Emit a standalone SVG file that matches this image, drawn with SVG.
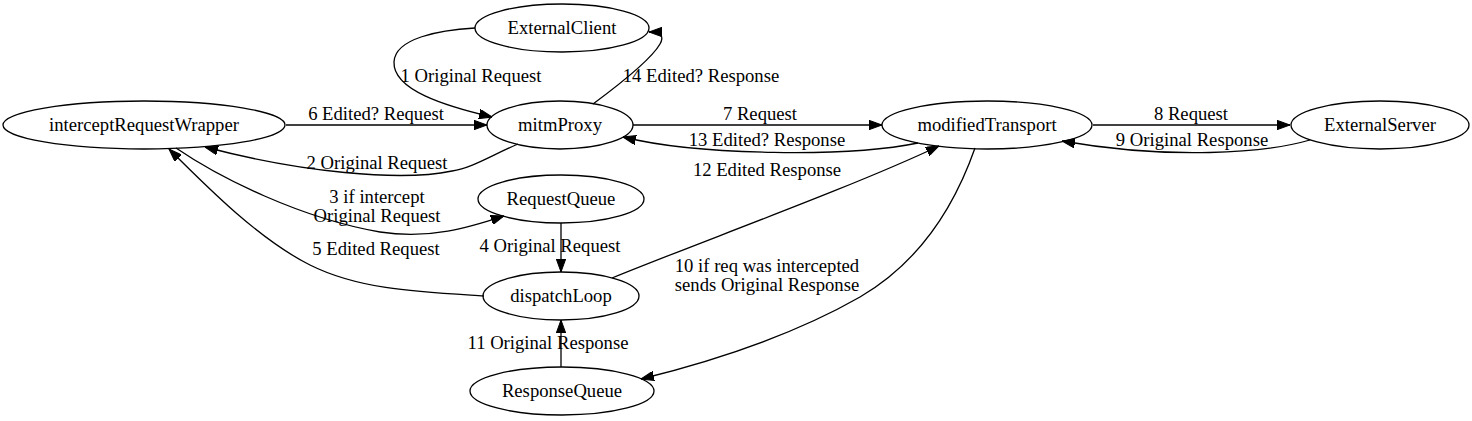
<svg xmlns="http://www.w3.org/2000/svg" width="1472" height="421" viewBox="0 0 1472 421">
<style>
.n ellipse{fill:none;stroke:#000;stroke-width:1.3}
text{font-family:"Liberation Serif","Times New Roman",serif;font-size:18.67px;text-anchor:middle;fill:#000}
.e path{fill:none;stroke:#000;stroke-width:1.3;marker-end:url(#ah)}
</style>
<defs>
<marker id="ah" viewBox="0 0 13 9.4" refX="13" refY="4.7" markerWidth="13" markerHeight="9.4" markerUnits="userSpaceOnUse" orient="auto">
<path d="M0,0 L13,4.7 L0,9.4 z" fill="#000" stroke="#000" stroke-width="1"/>
</marker>
</defs>
<rect width="1472" height="421" fill="#fff"/>
<g id="connectors" class="e">
<path d="M475,28 C440,30 395,38 394,62 C393,90 445,106 492,117"/>
<path d="M593,104 C620,84 652,58 660,44 C664,37 662,32 649,32"/>
<path d="M286,125 L487,125"/>
<path d="M518,144 C492,155 472,168 452,171 C400,182 300,172 205,147"/>
<path d="M176,148 C220,178 300,218 380,232 C430,240 470,227 504,216"/>
<path d="M561,223 L561,272"/>
<path d="M484,296 C420,292 360,290 310,265 C260,240 210,190 169,149"/>
<path d="M633,125 L882,125"/>
<path d="M918,143 C850,157 700,156 623,137"/>
<path d="M612,278 C700,242 850,188 939,146"/>
<path d="M975,148 C955,205 920,262 860,297 C790,337 710,362 641,379"/>
<path d="M1093,125 L1290,125"/>
<path d="M1310,140 C1265,153 1170,160 1062,141"/>
<path d="M561,367 L561,320"/>
</g>
<g id="labels">
<text x="471" y="82">1 Original Request</text>
<text x="701" y="82">14 Edited? Response</text>
<text x="376" y="120">6 Edited? Request</text>
<text x="760" y="120">7 Request</text>
<text x="1191" y="120">8 Request</text>
<text x="1192" y="146">9 Original Response</text>
<text x="767" y="146">13 Edited? Response</text>
<text x="377" y="169">2 Original Request</text>
<text x="767" y="176">12 Edited Response</text>
<text x="377" y="203">3 if intercept</text>
<text x="377" y="222">Original Request</text>
<text x="550" y="252">4 Original Request</text>
<text x="376" y="255">5 Edited Request</text>
<text x="767" y="272">10 if req was intercepted</text>
<text x="767" y="291">sends Original Response</text>
<text x="548" y="349">11 Original Response</text>
</g>
<g id="ExternalClient" class="n"><ellipse cx="562" cy="28" rx="87" ry="24"/><text x="562" y="34">ExternalClient</text></g>
<g id="mitmProxy" class="n"><ellipse cx="560" cy="125" rx="73" ry="24"/><text x="560" y="131">mitmProxy</text></g>
<g id="interceptRequestWrapper" class="n"><ellipse cx="144" cy="125" rx="141" ry="24"/><text x="144" y="131">interceptRequestWrapper</text></g>
<g id="modifiedTransport" class="n"><ellipse cx="987" cy="125" rx="105" ry="24"/><text x="987" y="131">modifiedTransport</text></g>
<g id="ExternalServer" class="n"><ellipse cx="1380" cy="125" rx="89" ry="24"/><text x="1380" y="131">ExternalServer</text></g>
<g id="RequestQueue" class="n"><ellipse cx="561" cy="199" rx="83" ry="24"/><text x="561" y="205">RequestQueue</text></g>
<g id="dispatchLoop" class="n"><ellipse cx="561" cy="296" rx="78" ry="24"/><text x="561" y="302">dispatchLoop</text></g>
<g id="ResponseQueue" class="n"><ellipse cx="562" cy="391" rx="92" ry="24"/><text x="562" y="397">ResponseQueue</text></g>
</svg>
